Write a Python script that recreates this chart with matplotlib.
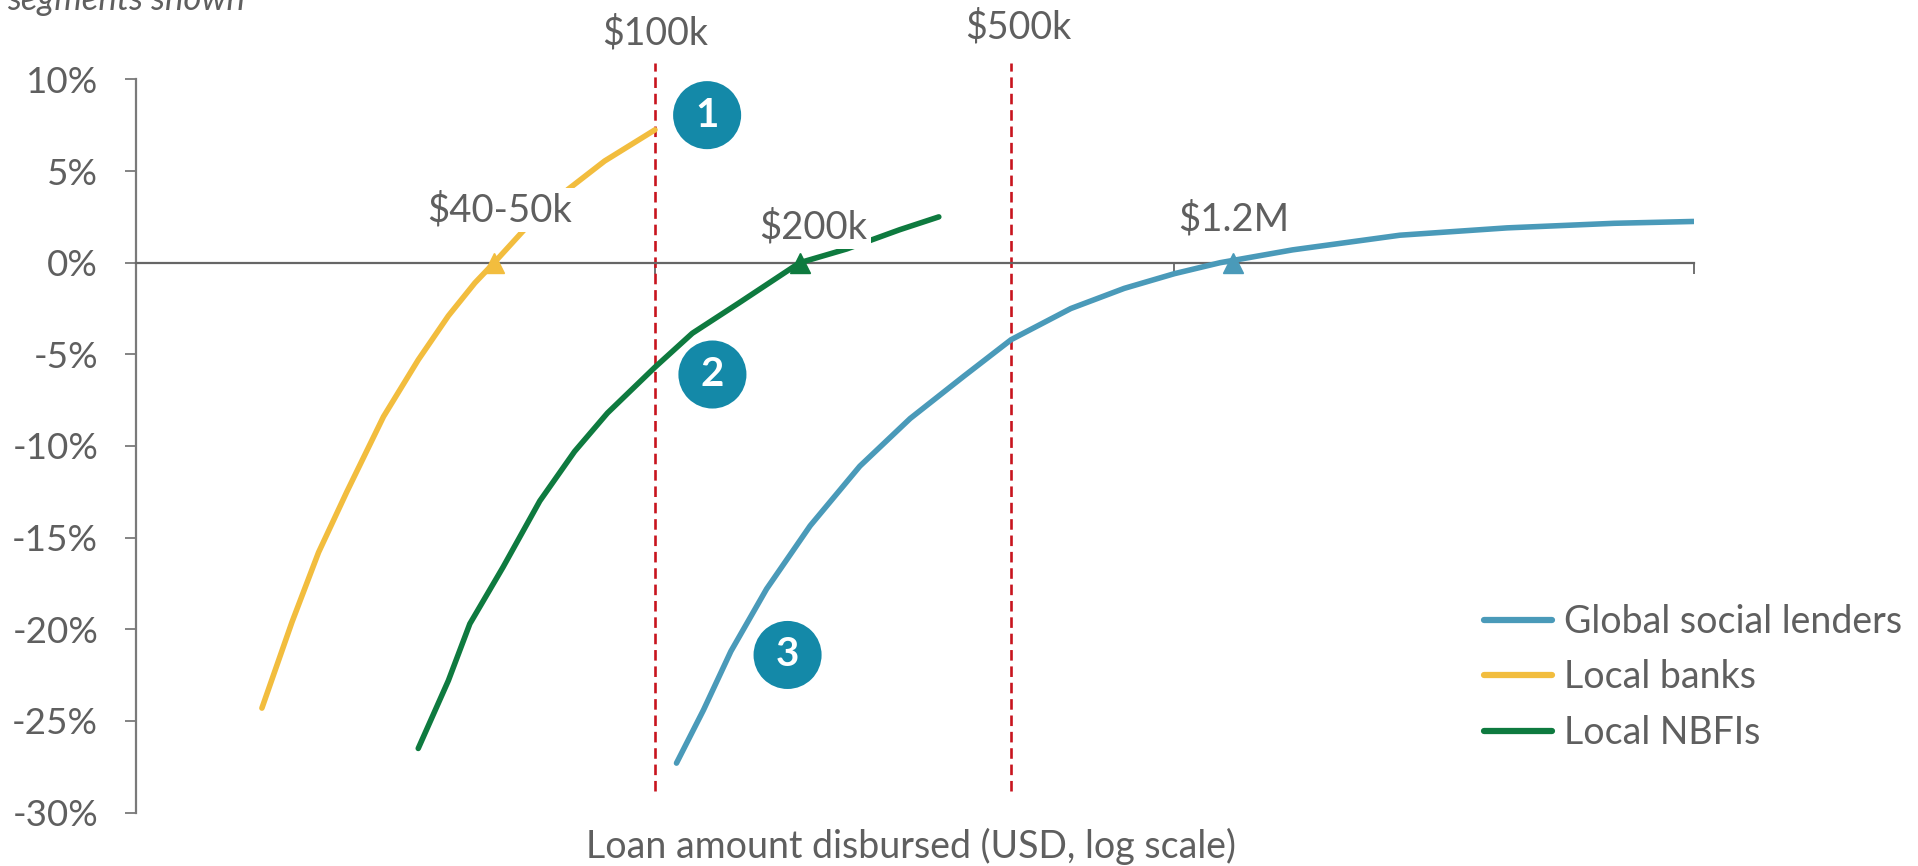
import matplotlib
matplotlib.use('Agg')
import matplotlib.pyplot as plt
from matplotlib.ticker import NullLocator, FixedLocator
import numpy as np

plt.rcParams['font.family'] = ['Lato', 'DejaVu Sans']

# ---------------- data (loan amounts in $ thousands, returns in %) ----------------
banks_amt = [17.5, 20, 22.5, 25.5, 30, 35, 40, 45, 49, 56, 68, 80, 100]
banks_ret = [-24.3, -19.6, -15.8, -12.5, -8.4, -5.3, -2.9, -1.1, 0.0, 1.8, 4.0, 5.55, 7.25]

nbfi_amt = [35, 40, 44, 51, 60, 70, 81, 100, 118, 145, 190, 234, 296, 352]
nbfi_ret = [-26.5, -22.8, -19.7, -16.6, -13.0, -10.3, -8.2, -5.7, -3.85, -2.2, 0.0, 0.75, 1.8, 2.5]

global_amt = [110, 124, 140, 164, 199, 248, 310, 393, 485, 632, 801, 1000, 1225,
              1690, 2720, 4375, 7040, 10000]
global_ret = [-27.3, -24.4, -21.2, -17.8, -14.35, -11.1, -8.5, -6.2, -4.2, -2.5, -1.4,
              -0.6, 0.0, 0.7, 1.5, 1.9, 2.15, 2.25]

series_names = ['Global social lenders', 'Local banks', 'Local NBFIs']

breakeven_amt = [49, 190, 1300]            # $k, where each curve crosses 0%
breakeven_labels = ['$40-50k', '$200k', '$1.2M']
breakeven_label_amt = [50.3, 202, 1300]
breakeven_label_ret = [2.87, 1.94, 2.38]

threshold_line_amt = [100, 485]            # $k, dashed reference lines (as drawn)
threshold_label_amt = [100, 500]
threshold_label_ret = [12.5, 12.85]
threshold_labels = ['$100k', '$500k']

circle_amt = [126, 129, 180]
circle_ret = [8.05, -6.1, -21.4]
circle_labels = ['1', '2', '3']

y_ticks = [10, 5, 0, -5, -10, -15, -20, -25, -30]

# ---------------- style ----------------
C_GLOBAL = '#4A9AB9'
C_BANKS = '#F2BD3E'
C_NBFI = '#0E7A3F'
C_CIRCLE = '#1489A8'
C_RED = '#C8141E'
C_TEXT = '#5F5F5F'
C_AXIS = '#7A7A7A'

W, H = 1918, 866
fig = plt.figure(figsize=(W / 100, H / 100), dpi=100)
x0, x1 = 135.7, 1693.6
y0, y1 = 79.4, 812.6
ax = fig.add_axes([x0 / W, 1 - y1 / H, (x1 - x0) / W, (y1 - y0) / H])

k = 1000.0
lg, = ax.plot(np.array(global_amt) * k, global_ret, color=C_GLOBAL, lw=4,
              solid_capstyle='round', solid_joinstyle='round', zorder=3)
lb, = ax.plot(np.array(banks_amt) * k, banks_ret, color=C_BANKS, lw=4,
              solid_capstyle='round', solid_joinstyle='round', zorder=3)
ln, = ax.plot(np.array(nbfi_amt) * k, nbfi_ret, color=C_NBFI, lw=4,
              solid_capstyle='round', solid_joinstyle='round', zorder=3)

ax.set_xscale('log')
ax.set_xlim(1e4, 1e7)
ax.set_ylim(-30, 10)

# axes styling
for s in ['top', 'right']:
    ax.spines[s].set_visible(False)
ax.spines['bottom'].set_position(('data', 0))
ax.spines['bottom'].set_color('#666666')
ax.spines['bottom'].set_linewidth(1.6)
ax.spines['left'].set_color(C_AXIS)
ax.spines['left'].set_linewidth(1.6)

ax.xaxis.set_major_locator(FixedLocator([1e4, 1e5, 1e6, 1e7]))
ax.xaxis.set_minor_locator(NullLocator())
ax.set_xticklabels([])
ax.tick_params(axis='x', direction='out', length=8, width=1.3, color='#666666')

ax.set_yticks(y_ticks)
ax.set_yticklabels([f'{v}%' for v in y_ticks])
ax.tick_params(axis='y', direction='out', length=8, width=1.3, color=C_AXIS,
               pad=19, labelsize=26.5, labelcolor=C_TEXT)

# dashed threshold lines + labels
for a in threshold_line_amt:
    ax.vlines(a * k, -28.8, 10.9, colors=C_RED, linestyles=(0, (4, 2.2)), lw=1.9,
              clip_on=False, zorder=2)
for a, r, lab in zip(threshold_label_amt, threshold_label_ret, threshold_labels):
    ax.text(a * k, r, lab.replace('$', r'\$'), ha='center', va='center',
            fontsize=27, color=C_TEXT, clip_on=False)

# break-even markers and labels
colors = [C_BANKS, C_NBFI, C_GLOBAL]
for a, c in zip(breakeven_amt, colors):
    ax.plot(a * k, 0, marker='^', ms=15, color=c, mec=c, zorder=4, clip_on=False)
for a, r, lab in zip(breakeven_label_amt, breakeven_label_ret, breakeven_labels):
    ax.text(a * k, r, lab.replace('$', r'\$'), ha='center', va='center', fontsize=27.5,
            color=C_TEXT, zorder=5,
            bbox=dict(boxstyle='square,pad=0.1', fc='white', ec='none'))

# numbered circles
ax.scatter(np.array(circle_amt) * k, circle_ret, s=2400, color=C_CIRCLE, zorder=6,
           edgecolors='none', clip_on=False)
for a, r, lab in zip(circle_amt, circle_ret, circle_labels):
    ax.text(a * k, r, lab, ha='center', va='center', fontsize=29, color='white',
            fontweight='bold', zorder=7)

# axis title
fig.text((x0 + x1) / 2 / W - 4 / W, 1 - 846 / H, 'Loan amount disbursed (USD, log scale)',
         ha='center', va='center', fontsize=27, color=C_TEXT)

# cut-off subtitle at top-left
fig.text(6.7 / W, 1 - 10 / H, 'segments shown', ha='left', va='baseline',
         fontsize=25, style='italic', color=C_TEXT)

# legend
leg = fig.legend([lg, lb, ln], series_names, loc='upper left',
                 bbox_to_anchor=(1484 / W, 1 - 604 / H), frameon=False,
                 fontsize=27, handlelength=1.8, handletextpad=0.33,
                 labelspacing=0.52, borderpad=0, borderaxespad=0)
for t in leg.get_texts():
    t.set_color(C_TEXT)
for h in leg.legend_handles:
    h.set_linewidth(4.5)

fig.savefig('out.png', dpi=100, facecolor='white')
